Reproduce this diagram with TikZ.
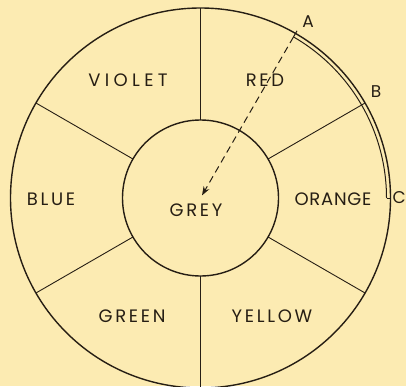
\documentclass[tikz,border=0pt]{standalone}
\usepackage{fontspec}
\setsansfont{Poppins}[LetterSpace=15]
\newfontfamily\pointfont{Poppins}
\usetikzlibrary{arrows.meta,calc}
\definecolor{paperCream}{RGB}{252,235,178}
\definecolor{inkBrown}{RGB}{38,30,20}

\begin{document}
\begin{tikzpicture}[
    x=1pt, y=1pt,
    rim/.style={circle, draw=inkBrown, line width=1.4pt, inner sep=0pt, outer sep=0pt},
    spoke/.style={draw=inkBrown, line width=0.9pt},
    strand/.style={draw=inkBrown, line width=1pt},
    hue/.style={font=\sffamily\fontsize{18}{18}\selectfont, text=inkBrown, inner sep=0pt},
    pointlabel/.style={font=\pointfont\fontsize{17}{17}\selectfont, text=inkBrown, inner sep=0pt},
    arrow/.style={-{Stealth[length=9pt,width=6.5pt]}, dash pattern=on 7pt off 4.5pt, line width=1pt, draw=inkBrown}
]
\fill[paperCream] (0,0) rectangle (406,386);
\useasboundingbox (0,0) rectangle (406,386);
\clip (0,0) rectangle (406,386);

\coordinate (O) at (200.5,188);
\node[rim, minimum size=380pt] (wheel) at (O) {};
\node[rim, minimum size=156pt] (grey) at (O) {};

\foreach \a in {30,90,150,210,270,330}
    \draw[spoke] (grey.\a) -- (wheel.\a);

\node[hue] (violet) at (128,306) {\addfontfeatures{LetterSpace=24}VIOLET};
\node[hue] (red)    at (265,306) {RED};
\node[hue] (blue)   at (51,187)  {BLUE};
\node[hue] (orange) at (333,187) {\addfontfeatures{LetterSpace=4}ORANGE};
\node[hue] (green)  at (132,70)  {GREEN};
\node[hue] (yellow) at (272,70)  {YELLOW};
\node[hue] (greytext) at (196,176) {GREY};

\coordinate (A) at ($(O)+(60:186)$);
\coordinate (B) at ($(O)+(30:186)$);
\coordinate (C) at ($(O)+(0:186)$);
\coordinate (Aout) at ($(O)+(60:193)$);
\coordinate (Cout) at ($(O)+(0:190)$);

\draw[strand] (A) arc[start angle=60, end angle=0, radius=186];
\draw[strand] (A) -- (Aout);
\draw[strand] (C) -- (Cout);

\draw[arrow] (A) -- ($(O)+(60:3)$);

\node[pointlabel] (labA) at (308,364) {A};
\node[pointlabel] (labB) at (376,294) {B};
\node[pointlabel, anchor=west] (labC) at (392.5,188) {C};

\end{tikzpicture}
\end{document}
